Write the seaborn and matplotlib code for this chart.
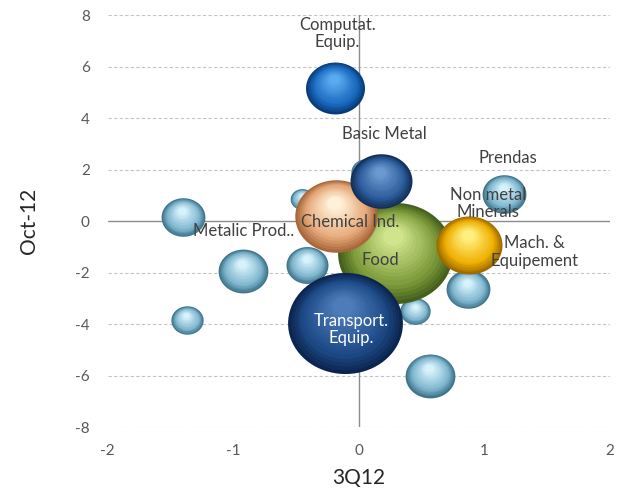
import numpy as np
import pandas as pd
import matplotlib
matplotlib.use("Agg")
import matplotlib.pyplot as plt
import matplotlib.colors as mcolors
from matplotlib.path import Path
from matplotlib.transforms import offset_copy
import seaborn as sns

# ---------------- data ----------------
sector = ["s1", "s2", "s3", "s4", "s5", "s6", "s7", "s8", "s9", "s10",
          "Food", "Chemical Ind.", "Basic Metal", "Transport. Equip.",
          "Computat. Equip.", "Mach. & Equipement"]
x_3q12 = [-1.40, -0.92, -0.41, -1.37, -0.45, 0.06, 1.16, 0.87, 0.45, 0.57,
          0.29, -0.18, 0.18, -0.11, -0.19, 0.88]
y_oct12 = [0.15, -1.95, -1.70, -3.85, 0.85, 1.90, 1.05, -2.65, -3.50, -6.00,
           -1.25, 0.22, 1.55, -3.96, 5.17, -0.93]
bubble_size = [4.8, 6.2, 4.4, 2.6, 1.4, 2.3, 4.8, 4.8, 2.3, 6.2,
               33.0, 17.0, 9.6, 33.0, 8.7, 10.9]
group = ["other"] * 10 + ["food", "chem", "basic", "transport", "comp", "mach"]

label_text = ["Computat.\nEquip.", "Basic Metal", "Prendas", "Non metal\nMinerals",
              "Mach. &\nEquipement", "Chemical Ind.", "Metalic Prod..", "Food",
              "Transport.\nEquip."]
label_x = [-0.17, 0.20, 1.19, 1.03, 1.40, -0.07, -0.92, 0.17, -0.06]
label_y = [7.30, 3.40, 2.45, 0.70, -1.20, -0.03, -0.40, -1.50, -4.20]
label_color = ["#404040"] * 8 + ["#ffffff"]

x_ticks = [-2, -1, 0, 1, 2]
y_ticks = [-8, -6, -4, -2, 0, 2, 4, 6, 8]

# rim, body, highlight colours per group
shades = {
    "other":     ("#3f7489", "#7fb6cf", "#d6f2fb"),
    "food":      ("#45601c", "#7c9a3a", "#cfe48c"),
    "chem":      ("#a8683c", "#e6a878", "#fff0d8"),
    "basic":     ("#122f58", "#2c5c9a", "#6a98d0"),
    "transport": ("#0c2550", "#1d4a86", "#4d7cb8"),
    "comp":      ("#083c78", "#1a6ac0", "#5aaaf0"),
    "mach":      ("#a06c00", "#efb000", "#fff080"),
}

df = pd.DataFrame({"sector": sector, "x": x_3q12, "y": y_oct12,
                   "size": bubble_size, "group": group})

# ---------------- style ----------------
sns.set_style("white")
plt.rcParams["font.family"] = ["Lato", "DejaVu Sans"]

fig = plt.figure(figsize=(6.30, 4.91), dpi=100)
ax = fig.add_axes([0.171, 0.130, 0.797, 0.839])
ax.set_xlim(-2, 2)
ax.set_ylim(-8, 8)

for sp in ax.spines.values():
    sp.set_visible(False)

# gridlines and centre axes
for yv in y_ticks:
    if yv == 0:
        continue
    ax.axhline(yv, color="#c4c4c4", lw=0.8, ls=(0, (3, 2)), zorder=0)
ax.axhline(0, color="#8c8c8c", lw=1.0, zorder=1)
ax.axvline(0, color="#8c8c8c", lw=1.0, zorder=1)

# elliptical marker (source image is slightly stretched horizontally)
theta = np.linspace(0, 2 * np.pi, 80)
ell = Path(np.column_stack([np.cos(theta), 0.88 * np.sin(theta)]), closed=True)

S_PER_UNIT = (2 * 0.72) ** 2 * 100.0  # marker area (pt^2) per size unit


def blend(c1, c2, t):
    a = np.array(mcolors.to_rgb(c1))
    b = np.array(mcolors.to_rgb(c2))
    return tuple(a + (b - a) * t)


n_layers = 16
for i, row in df.iterrows():
    rim, body, hi = shades[row["group"]]
    s0 = row["size"] * S_PER_UNIT
    r_pt = np.sqrt(s0) / 2
    z = 3 + i * 0.1
    sns.scatterplot(x=[row["x"]], y=[row["y"]], s=s0, color=rim, marker=ell,
                    linewidth=0, ax=ax, zorder=z, legend=False)
    for k in range(1, n_layers):
        t = k / (n_layers - 1)
        f = 1 - 0.82 * t
        if t < 0.3:
            col = blend(rim, body, t / 0.3)
        else:
            col = blend(body, hi, (t - 0.3) / 0.7)
        tr = offset_copy(ax.transData, fig=fig, x=-0.05 * (1 - f) * r_pt,
                         y=0.42 * (1 - f) * r_pt * 0.88, units="points")
        ax.scatter([row["x"]], [row["y"]], s=s0 * f * f, color=col, marker=ell,
                   linewidths=0, transform=tr, zorder=z + k * 0.001)

# labels
for txt, lx, ly, lc in zip(label_text, label_x, label_y, label_color):
    ax.text(lx, ly, txt, ha="center", va="center", fontsize=12, color=lc,
            linespacing=1.1, zorder=10)

ax.set_xticks(x_ticks)
ax.set_yticks(y_ticks)
ax.set_xticklabels([str(v) for v in x_ticks])
ax.set_yticklabels([str(v) for v in y_ticks])
ax.tick_params(axis="both", length=0, labelsize=11, colors="#595959")
ax.tick_params(axis="x", pad=12)
ax.tick_params(axis="y", pad=13)
ax.set_xlabel("3Q12", fontsize=15, color="#262626", labelpad=7)
ax.set_ylabel("Oct-12", fontsize=15, color="#262626", labelpad=26)

fig.savefig("out.png", dpi=100)
